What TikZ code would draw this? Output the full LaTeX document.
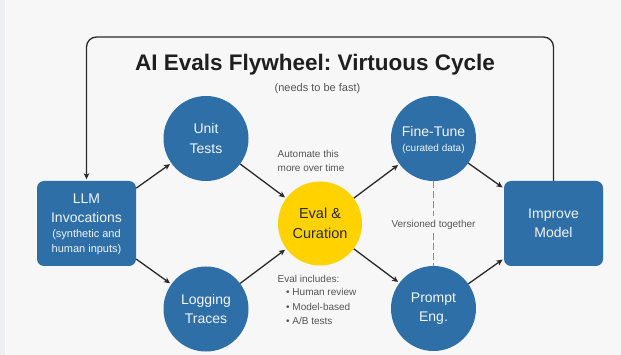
\documentclass[tikz,border=0pt]{standalone}
\usepackage{fontspec}
\setmainfont{Liberation Sans}
\usetikzlibrary{arrows.meta}
\frenchspacing
\definecolor{bgc}{HTML}{F7F7F7}
\definecolor{stripc}{HTML}{ECEEF1}
\definecolor{bluec}{HTML}{2D6FA6}
\definecolor{yellowc}{HTML}{FFD200}
\definecolor{linec}{HTML}{2A2A2A}
\definecolor{grayt}{HTML}{555555}
\definecolor{dashc}{HTML}{8A8A8A}
\definecolor{ntext}{HTML}{F2F5F9}
\newcommand{\fsz}[2]{\fontsize{#1}{#2}\selectfont}
\begin{document}
\begin{tikzpicture}[x=1pt,y=-1pt,
  bluecirc/.style={circle,fill=bluec,minimum size=85pt,inner sep=0pt,text=ntext,align=center,font=\fsz{14}{19.5}},
  yellowcirc/.style={circle,fill=yellowc,minimum size=84pt,inner sep=0pt,text=linec,align=center,font=\fsz{14.5}{20.5}},
  bluebox/.style={rectangle,rounded corners=7pt,fill=bluec,minimum width=99pt,minimum height=85pt,inner sep=0pt,text=ntext,align=center,font=\fsz{14}{19}},
  flow/.style={draw=linec,line width=1.3pt,shorten >=1.5pt,-{Stealth[length=6pt,width=5.5pt,inset=1.5pt]}},
  note/.style={text=grayt,font=\fsz{10}{14},inner sep=0pt},
]
\useasboundingbox (0,0) rectangle (621,355);
\fill[bgc] (0,0) rectangle (621,355);
\fill[stripc] (0,0) rectangle (5,355);
\draw[white,line width=1pt] (5.5,0) -- (5.5,355);

% title
\node[font=\bfseries\fsz{22.5}{26},text=black!88,inner sep=0pt] (title) at (315,64.5) {AI Evals Flywheel: Virtuous Cycle};
\node[font=\fsz{11}{13},text=grayt,inner sep=0pt] (sub) at (317.5,88.5) {(needs to be fast)};

% nodes
\node[bluebox] (llm) at (86.5,223.5) {};
\node[text=ntext,font=\fsz{14}{19},align=center,inner sep=0pt] (llmt1) at (86.5,208.5) {LLM\\Invocations};
\node[text=ntext,font=\fsz{11}{15},align=center,inner sep=0pt] (llmt2) at (86.5,242.5) {(synthetic and\\human inputs)};
\node[bluecirc] (unit) at (206,138.5) {Unit\\Tests};
\node[bluecirc] (log) at (206,309) {Logging\\Traces};
\node[yellowcirc] (eval) at (320,223.5) {Eval \&\\Curation};
\node[bluecirc] (ft) at (433.5,138.5) {};
\node[text=ntext,font=\fsz{14}{17},inner sep=0pt] (ftt1) at (433.5,131.5) {Fine-Tune};
\node[text=ntext,font=\fsz{10}{12},inner sep=0pt] (ftt2) at (433.5,148.5) {(curated data)};
\node[bluecirc] (pe) at (433.5,308.5) {Prompt\\Eng.};
\node[bluebox] (imp) at (553.5,223.5) {Improve\\Model};

% notes
\node[note,align=left,anchor=west] (auto) at (277.5,161) {Automate this\\more over time};
\node[note,anchor=west] (evinc) at (277.5,278.5) {Eval includes:};
\node[note,anchor=west] (b1) at (286,292) {\textbullet\ Human review};
\node[note,anchor=west] (b2) at (286,306.5) {\textbullet\ Model-based};
\node[note,anchor=west] (b3) at (286,320.5) {\textbullet\ A/B tests};
\node[note,inner sep=3.5pt] (ver) at (433.5,224.5) {Versioned together};

% dashed link
\draw[dashc,line width=1.1pt,dash pattern=on 7pt off 3pt] (ft.south) -- (ver.north);
\draw[dashc,line width=1.1pt,dash pattern=on 7pt off 3pt] (ver.south) -- (pe.north);

% flow arrows
\draw[flow] (llm) -- (unit);
\draw[flow] (llm) -- (log);
\draw[flow] (unit) -- (eval);
\draw[flow] (log) -- (eval);
\draw[flow] (eval) -- (ft);
\draw[flow] (eval) -- (pe);
\draw[flow] (ft) -- (imp);
\draw[flow] (pe) -- (imp);

% feedback loop
\coordinate (looptop) at (0,37);
\draw[flow,rounded corners=10pt] (imp.north) -- (imp.north |- looptop) -- (llm.north |- looptop) -- (llm.north);
\end{tikzpicture}
\end{document}
